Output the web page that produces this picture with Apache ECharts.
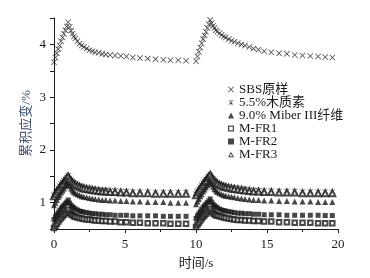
<!DOCTYPE html>
<html>
<head>
<meta charset="utf-8">
<script src="https://cdn.jsdelivr.net/npm/echarts@6/dist/echarts.min.js"></script>
<style>
html, body { margin: 0; padding: 0; background: #fff; }
#chart { width: 370px; height: 278px; }
</style>
</head>
<body>
<div id="chart"></div>
<script>
// 时间 (s)，两个加载-恢复周期
var time = [
	0, 0.1, 0.2, 0.3, 0.4, 0.5, 0.6, 0.7, 0.8, 0.9, 1.0,
	1.1, 1.2, 1.3, 1.4, 1.5, 1.65, 1.8, 1.95, 2.1, 2.3, 2.5, 2.7, 2.9, 3.15, 3.4, 3.65, 3.95, 4.3, 4.7, 5.1, 5.55, 6.05, 6.6, 7.15, 7.7, 8.2, 8.75, 9.3,
	10.0, 10.1, 10.2, 10.3, 10.4, 10.5, 10.6, 10.7, 10.8, 10.9, 11.0,
	11.1, 11.2, 11.3, 11.4, 11.5, 11.65, 11.8, 11.95, 12.1, 12.3, 12.5, 12.7, 12.95, 13.2, 13.45, 13.75, 14.05, 14.4, 14.8, 15.3, 15.85, 16.4, 16.95, 17.5, 18.05, 18.6, 19.1, 19.6
];

var sbs = [
	3.66, 3.75, 3.83, 3.91, 3.98, 4.06, 4.13, 4.2, 4.27, 4.34, 4.42,
	4.33, 4.26, 4.2, 4.15, 4.11, 4.06, 4.01, 3.98, 3.95, 3.92, 3.89, 3.87, 3.85, 3.84, 3.82, 3.81, 3.8, 3.79, 3.78, 3.77, 3.75, 3.74, 3.73, 3.72, 3.71, 3.7, 3.7, 3.69,
	3.68, 3.77, 3.86, 3.94, 4.02, 4.1, 4.17, 4.24, 4.31, 4.38, 4.46,
	4.4, 4.35, 4.31, 4.27, 4.24, 4.21, 4.18, 4.15, 4.13, 4.1, 4.07, 4.05, 4.02, 4.0, 3.98, 3.95, 3.92, 3.9, 3.87, 3.85, 3.83, 3.82, 3.8, 3.79, 3.78, 3.77, 3.76, 3.75
];

var lignin = [
	1.15, 1.2, 1.24, 1.28, 1.32, 1.36, 1.39, 1.42, 1.45, 1.48, 1.52,
	1.47, 1.43, 1.40, 1.38, 1.36, 1.34, 1.32, 1.31, 1.30, 1.29, 1.28, 1.27, 1.26, 1.25, 1.24, 1.24, 1.23, 1.23, 1.22, 1.22, 1.21, 1.21, 1.21, 1.2, 1.2, 1.2, 1.2, 1.2,
	1.17, 1.22, 1.26, 1.3, 1.34, 1.38, 1.41, 1.44, 1.47, 1.5, 1.54,
	1.49, 1.46, 1.43, 1.4, 1.38, 1.36, 1.34, 1.33, 1.32, 1.31, 1.3, 1.29, 1.28, 1.27, 1.26, 1.25, 1.24, 1.24, 1.23, 1.23, 1.22, 1.22, 1.22, 1.21, 1.21, 1.21, 1.21, 1.21
];

var miber = [
	0.95, 1.0, 1.05, 1.1, 1.14, 1.19, 1.23, 1.27, 1.31, 1.34, 1.38,
	1.32, 1.27, 1.23, 1.2, 1.18, 1.16, 1.14, 1.12, 1.11, 1.10, 1.09, 1.08, 1.07, 1.06, 1.05, 1.05, 1.04, 1.04, 1.03, 1.03, 1.02, 1.02, 1.01, 1.01, 1.01, 1.0, 1.0, 1.0,
	0.97, 1.02, 1.07, 1.12, 1.16, 1.21, 1.25, 1.29, 1.33, 1.37, 1.41,
	1.35, 1.3, 1.26, 1.23, 1.2, 1.18, 1.16, 1.14, 1.13, 1.12, 1.11, 1.1, 1.09, 1.08, 1.07, 1.06, 1.05, 1.05, 1.04, 1.04, 1.03, 1.03, 1.02, 1.02, 1.02, 1.01, 1.01, 1.01
];

var mfr1 = [
	0.52, 0.56, 0.6, 0.64, 0.68, 0.71, 0.74, 0.77, 0.8, 0.83, 0.86,
	0.81, 0.78, 0.76, 0.74, 0.73, 0.72, 0.71, 0.70, 0.69, 0.68, 0.68, 0.67, 0.66, 0.66, 0.65, 0.65, 0.64, 0.64, 0.63, 0.63, 0.62, 0.62, 0.61, 0.61, 0.61, 0.6, 0.6, 0.6,
	0.54, 0.58, 0.62, 0.66, 0.7, 0.73, 0.76, 0.79, 0.82, 0.85, 0.88,
	0.83, 0.8, 0.78, 0.76, 0.75, 0.74, 0.73, 0.72, 0.71, 0.7, 0.69, 0.68, 0.67, 0.67, 0.66, 0.66, 0.65, 0.65, 0.64, 0.64, 0.63, 0.63, 0.62, 0.62, 0.62, 0.61, 0.61, 0.61
];

var mfr2 = [
	0.68, 0.73, 0.77, 0.81, 0.85, 0.89, 0.92, 0.95, 0.98, 1.01, 1.05,
	0.99, 0.95, 0.92, 0.9, 0.88, 0.86, 0.84, 0.83, 0.82, 0.81, 0.8, 0.79, 0.79, 0.78, 0.78, 0.77, 0.77, 0.76, 0.76, 0.76, 0.75, 0.75, 0.75, 0.75, 0.74, 0.74, 0.74, 0.74,
	0.7, 0.75, 0.79, 0.83, 0.87, 0.91, 0.94, 0.97, 1.0, 1.03, 1.07,
	1.01, 0.97, 0.94, 0.92, 0.9, 0.88, 0.86, 0.85, 0.84, 0.83, 0.82, 0.81, 0.8, 0.8, 0.79, 0.79, 0.78, 0.78, 0.77, 0.77, 0.77, 0.76, 0.76, 0.76, 0.76, 0.76, 0.755, 0.755
];

var mfr3 = [
	1.12, 1.17, 1.21, 1.25, 1.29, 1.33, 1.36, 1.40, 1.43, 1.46, 1.50,
	1.45, 1.41, 1.38, 1.36, 1.34, 1.32, 1.30, 1.28, 1.27, 1.26, 1.25, 1.24, 1.23, 1.22, 1.21, 1.21, 1.20, 1.20, 1.19, 1.19, 1.18, 1.18, 1.18, 1.17, 1.17, 1.17, 1.17, 1.17,
	1.14, 1.19, 1.23, 1.27, 1.31, 1.35, 1.39, 1.42, 1.46, 1.49, 1.53,
	1.48, 1.44, 1.41, 1.38, 1.36, 1.34, 1.32, 1.30, 1.29, 1.28, 1.27, 1.26, 1.25, 1.24, 1.23, 1.22, 1.21, 1.21, 1.20, 1.20, 1.19, 1.19, 1.19, 1.18, 1.18, 1.18, 1.18, 1.18
];

var names = ['SBS原样', '5.5%木质素', '9.0% Miber III纤维', 'M-FR1', 'M-FR2', 'M-FR3'];

// 细线 × 和 * 形状
var crossPath = 'path://M0,0.9L0.9,0L5,4.1L9.1,0L10,0.9L5.9,5L10,9.1L9.1,10L5,5.9L0.9,10L0,9.1L4.1,5Z';
var starPath = 'path://M1,1.6L1.6,1L5,4.4L8.4,1L9,1.6L5.6,5L9,8.4L8.4,9L5,5.6L1.6,9L1,8.4L4.4,5Z' +
	'M4.55,0L5.45,0L5.45,10L4.55,10Z';
// 图例用空心方块 / 空心三角
var ringRect = 'path://M0,0L10,0L10,10L0,10Z M2,2L2,8L8,8L8,2Z';
var ringTri = 'path://M5,0L10,9L0,9Z M5,3.4L2.6,7.6L7.4,7.6Z';

var font = "'Liberation Serif', 'Noto Sans CJK SC', serif";
var ink = '#1a1a1a';

var chart = echarts.init(document.getElementById('chart'));

function mkSeries(name, vals, symbol, size, hollow) {
	return {
		name: name,
		type: 'scatter',
		symbol: symbol,
		symbolSize: size,
		itemStyle: { color: ink, borderColor: ink, borderWidth: hollow ? 0.9 : 0 },
		data: time.map(function (t, i) { return [t, vals[i]]; }),
		silent: true
	};
}

var legendIcons = {
	'M-FR1': ringRect,
	'M-FR3': ringTri
};

var option = {
	animation: false,
	backgroundColor: '#fff',
	grid: { left: 54, right: 32, top: 18, bottom: 49 },
	legend: {
		orient: 'vertical',
		left: 223,
		top: 78,
		itemWidth: 6,
		itemHeight: 6,
		itemGap: 0,
		textStyle: { fontFamily: font, fontSize: 13, color: ink, lineHeight: 13 },
		data: names.map(function (n) {
			var item = { name: n, itemStyle: { borderWidth: 0, color: ink } };
			if (legendIcons[n]) item.icon = legendIcons[n];
			return item;
		})
	},
	xAxis: {
		type: 'value',
		min: 0,
		max: 20,
		interval: 5,
		name: '时间/s',
		nameLocation: 'middle',
		nameGap: 28,
		nameTextStyle: { fontFamily: font, fontSize: 13, color: ink },
		axisLine: { lineStyle: { color: ink, width: 1 } },
		axisTick: { length: 4, lineStyle: { color: ink } },
		minorTick: { show: true, splitNumber: 2, length: 3, lineStyle: { color: ink } },
		axisLabel: { fontFamily: font, fontSize: 13, color: ink, margin: 9 },
		splitLine: { show: false }
	},
	yAxis: {
		type: 'value',
		min: 0.5,
		max: 4.5,
		interval: 0.5,
		name: '累积应变/%',
		nameLocation: 'middle',
		nameGap: 21,
		nameMoveOverlap: false,
		nameRotate: 90,
		nameTextStyle: { fontFamily: font, fontSize: 13, color: '#3b4a6b' },
		axisLine: { lineStyle: { color: ink, width: 1 } },
		axisTick: { length: 4, lineStyle: { color: ink } },
		axisLabel: {
			fontFamily: font, fontSize: 13, color: ink, margin: 8,
			formatter: function (v) { return Math.abs(v - Math.round(v)) < 1e-6 ? String(Math.round(v)) : ''; }
		},
		splitLine: { show: false }
	},
	series: [
		mkSeries(names[0], sbs, crossPath, 6, false),
		mkSeries(names[1], lignin, starPath, 6, false),
		mkSeries(names[2], miber, 'triangle', 6, false),
		mkSeries(names[3], mfr1, 'emptyRect', 4.5, true),
		mkSeries(names[4], mfr2, 'rect', 5, false),
		mkSeries(names[5], mfr3, 'emptyTriangle', 6, true)
	]
};

chart.setOption(option);
</script>
</body>
</html>
